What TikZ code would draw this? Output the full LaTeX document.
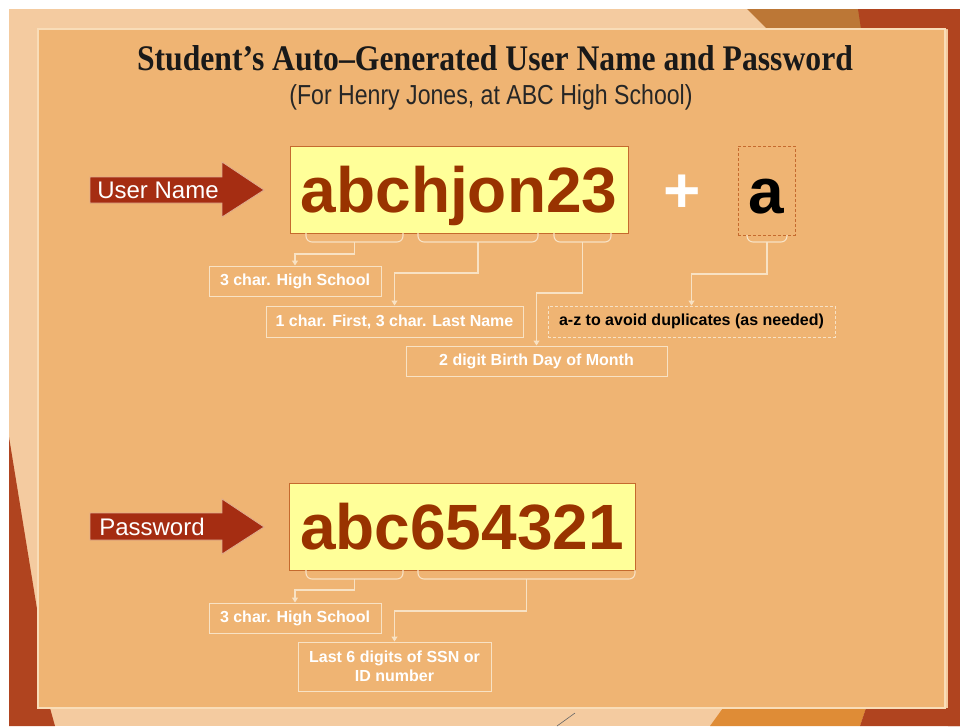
\documentclass[tikz,border=0pt]{standalone}
\usepackage{fontspec}
\setmainfont{Liberation Serif}
\setsansfont{Liberation Sans}
\newfontfamily\titlefont[FakeStretch=0.88]{Liberation Serif}
\newfontfamily\subfont[FakeStretch=0.84]{Liberation Sans}
\usetikzlibrary{arrows.meta}
\definecolor{outerpeach}{HTML}{F4CBA0}
\definecolor{panel}{HTML}{EFB473}
\definecolor{panelline}{HTML}{F9DDB8}
\definecolor{rust}{HTML}{B0441F}
\definecolor{tan}{HTML}{BC7736}
\definecolor{orange}{HTML}{DF8C36}
\definecolor{arrowred}{HTML}{A52D12}
\definecolor{pale}{HTML}{FFFF99}
\definecolor{boxline}{HTML}{C56A2E}
\definecolor{code}{HTML}{993300}
\definecolor{cream}{HTML}{F8E2C4}
\begin{document}
\begin{tikzpicture}[x=1pt,y=-1pt,
  codebox/.style={draw=boxline,line width=1pt,fill=pale,text=code,font=\sffamily\bfseries\fontsize{64}{64}\selectfont,text height=50pt,text depth=5pt,inner sep=0pt},
  extrabox/.style={draw=boxline,line width=1pt,dash pattern=on 3pt off 2pt,font=\sffamily\bfseries\fontsize{64}{64}\selectfont,text height=50pt,text depth=5pt,inner sep=0pt},
  tag/.style={text=white,font=\sffamily\fontsize{24}{24}\selectfont,inner sep=0pt},
  bigarrow/.style={fill=arrowred,draw=cream!70!arrowred,line width=0.8pt},
  note/.style={draw=cream,line width=1pt,text=white,font=\sffamily\bfseries\fontsize{16}{19}\selectfont,inner sep=0pt,align=center},
  brace/.style={draw=cream,line width=1.1pt,rounded corners=6pt},
  link/.style={draw=cream,line width=1.1pt,-{Triangle[length=5pt,width=6pt]}}]
\useasboundingbox (0,0) rectangle (960,726);
\fill[white] (0,0) rectangle (960,726);
\fill[outerpeach] (9,9) rectangle (960,726);
\fill[tan] (747,9) -- (860,9) -- (862,29) -- (767,29) -- cycle;
\fill[rust] (858,9) -- (960,9) -- (960,726) -- (948,726) -- (948,29) -- (861,29) -- cycle;
\fill[rust] (9,437) -- (38,615) -- (50,708) -- (55,726) -- (9,726) -- cycle;
\fill[orange] (723,708) -- (866,708) -- (860,726) -- (710,726) -- cycle;
\fill[rust] (866,708) -- (960,708) -- (960,726) -- (860,726) -- cycle;
\draw[black!60,line width=0.6pt] (557,726) -- (575,713);
\filldraw[fill=panel,draw=panelline,line width=1.5pt] (38,29) rectangle (945,708);

\node[font=\titlefont\bfseries\fontsize{36}{36}\selectfont,text=black!90] (title) at (495,58) {Student’s Auto–Generated User Name and Password};
\node[font=\subfont\fontsize{27.5}{28}\selectfont,text=black!85] (sub) at (491,97) {(For Henry Jones, at ABC High School)};

\filldraw[bigarrow] (90,177) -- (222,177) -- (222,162) -- (264,190) -- (222,217) -- (222,203) -- (90,203) -- cycle;
\node[tag] (un) at (158,190) {User Name};
\node[codebox,minimum width=338pt,minimum height=87pt] (uname) at (459,189.5) {abchjon23};
\node[text=white,font=\sffamily\bfseries\fontsize{64}{64}\selectfont,text height=50pt,text depth=5pt,inner sep=0pt] (plus) at (682,190) {+};
\node[extrabox,minimum width=57pt,minimum height=89pt] (extra) at (766.5,190.5) {a};

\node[note,minimum width=172pt,minimum height=30pt] (hs1) at (295,281) {3 char. High School};
\node[note,minimum width=257pt,minimum height=31pt] (nm) at (394.5,321.5) {1 char. First, 3 char. Last Name};
\node[note,minimum width=261pt,minimum height=30pt] (bd) at (536.5,361) {2 digit Birth Day of Month};
\node[note,dash pattern=on 3pt off 2pt,text=black,minimum width=287pt,minimum height=31pt] (az) at (691.5,321.5) {a-z to avoid duplicates (as needed)};

\draw[brace] (306,233) -- (306,242) -- (403,242) -- (403,233);
\draw[brace] (418,233) -- (418,242) -- (538,242) -- (538,233);
\draw[brace] (554,233) -- (554,242) -- (611,242) -- (611,233);
\draw[brace] (747,235) -- (747,242) -- (787,242) -- (787,235);
\coordinate (u1) at (354.5,242);
\coordinate (u2) at (478,242);
\coordinate (u3) at (582.5,242);
\coordinate (u4) at (767,242);
\draw[link] (u1) -- ++(0,12) -| (hs1.north);
\draw[link] (u2) -- ++(0,31) -| (nm.north);
\draw[link] (u3) -- ++(0,51) -| (bd.north);
\draw[link] (u4) -- ++(0,32) -| (az.north);

\filldraw[bigarrow] (90,513) -- (222,513) -- (222,499) -- (264,527) -- (222,554) -- (222,540) -- (90,540) -- cycle;
\node[tag] (pw) at (152,527) {Password};
\node[codebox,minimum width=346pt,minimum height=87pt] (pword) at (462,526.5) {abc654321};

\node[note,minimum width=172pt,minimum height=30pt] (hs2) at (295,618) {3 char. High School};
\node[note,minimum width=193pt,minimum height=49pt] (ssn) at (394.5,666.5) {Last 6 digits of SSN or\\ID number};

\draw[brace] (306,570) -- (306,579) -- (403,579) -- (403,570);
\draw[brace] (418,570) -- (418,579) -- (635,579) -- (635,570);
\coordinate (p1) at (354.5,579);
\coordinate (p2) at (526.5,579);
\draw[link] (p1) -- ++(0,11) -| (hs2.north);
\draw[link] (p2) -- ++(0,32) -| (ssn.north);
\end{tikzpicture}
\end{document}
